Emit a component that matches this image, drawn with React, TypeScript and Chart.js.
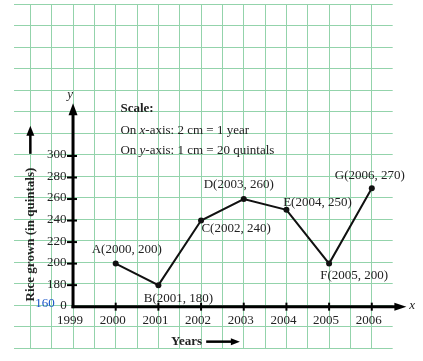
import React, { useEffect, useRef } from 'react';
import { Chart, registerables } from 'chart.js';

Chart.register(...registerables);

// ---- data ----
const years = [2000, 2001, 2002, 2003, 2004, 2005, 2006];
const riceGrown = [200, 180, 240, 260, 250, 200, 270];
const pointNames = ['A', 'B', 'C', 'D', 'E', 'F', 'G'];
const xTickValues = [1999, 2000, 2001, 2002, 2003, 2004, 2005, 2006];
const yTickValues = [180, 200, 220, 240, 260, 280, 300];
const yBreakValue = 160;
const yBreakLabel = '160';
const originLabel = '0';
const yTitle = 'Rice grown (in quintals)';
const xTitle = 'Years';
const scaleTitle = 'Scale:';
const scaleLine1 = [['On ', 'n'], ['x', 'i'], ['-axis: 2 cm = 1 year', 'n']];
const scaleLine2 = [['On ', 'n'], ['y', 'i'], ['-axis: 1 cm = 20 quintals', 'n']];

// ---- layout (pixels / scale extents) ----
const X_MIN = 1997.617;
const X_MAX = 2006.49;
const Y_MIN = 121.6;
const Y_MAX = 441.2;
const Y_AXIS_END = 349;
const X_AXIS_END = 2006.81;
const LABEL_OFFSETS: [number, number][] = [
  [11, -14], [20, 13], [35, 8], [-5, -14], [31, -7], [25, 12], [-2, -13],
];

const SERIF = '"Liberation Serif", "Times New Roman", serif';
const TEXT = '#222';
const GRID = '#93d3ab';

function arrow(ctx: CanvasRenderingContext2D, tx: number, ty: number, dx: number, dy: number, len: number, hw: number) {
  const bx = tx - dx * len, by = ty - dy * len;
  const nx = -dy, ny = dx;
  ctx.beginPath();
  ctx.moveTo(tx, ty);
  ctx.lineTo(bx + nx * hw, by + ny * hw);
  ctx.lineTo(bx - nx * hw, by - ny * hw);
  ctx.closePath();
  ctx.fill();
}

const decor = {
  id: 'decor',
  beforeDatasetsDraw(chart: any) {
    const { ctx, scales } = chart;
    const xs = scales.x, ys = scales.y;
    const px = (v: number) => xs.getPixelForValue(v);
    const py = (v: number) => ys.getPixelForValue(v);
    const ox = px(xTickValues[0]);
    const oy = py(yBreakValue);
    ctx.save();
    ctx.strokeStyle = '#000';
    ctx.fillStyle = '#000';
    // y axis
    ctx.lineWidth = 3;
    ctx.beginPath();
    ctx.moveTo(ox, oy + 1.5);
    ctx.lineTo(ox, py(Y_AXIS_END) + 8);
    ctx.stroke();
    arrow(ctx, ox, py(Y_AXIS_END), 0, -1, 12, 4.5);
    // x axis
    ctx.beginPath();
    ctx.moveTo(ox - 1.5, oy);
    ctx.lineTo(px(X_AXIS_END) - 8, oy);
    ctx.stroke();
    arrow(ctx, px(X_AXIS_END), oy, 1, 0, 12, 4);
    // ticks
    ctx.lineWidth = 2;
    yTickValues.forEach((v) => {
      ctx.beginPath();
      ctx.moveTo(ox - 6, py(v));
      ctx.lineTo(ox + 4, py(v));
      ctx.stroke();
    });
    xTickValues.slice(1).forEach((v) => {
      ctx.beginPath();
      ctx.moveTo(px(v), oy - 4);
      ctx.lineTo(px(v), oy + 4);
      ctx.stroke();
    });
    ctx.restore();
  },
  afterDatasetsDraw(chart: any) {
    const { ctx, scales } = chart;
    const xs = scales.x, ys = scales.y;
    const px = (v: number) => xs.getPixelForValue(v);
    const py = (v: number) => ys.getPixelForValue(v);
    const ox = px(xTickValues[0]);
    const oy = py(yBreakValue);
    ctx.save();
    ctx.fillStyle = TEXT;
    ctx.textBaseline = 'middle';
    ctx.font = `13px ${SERIF}`;
    // y tick labels
    ctx.textAlign = 'right';
    yTickValues.forEach((v) => ctx.fillText(String(v), ox - 6.5, py(v) - 1));
    // x tick labels
    ctx.textAlign = 'center';
    xTickValues.forEach((v) => ctx.fillText(String(v), px(v) - 3, oy + 14));
    // origin labels
    ctx.fillText(originLabel, ox - 9.5, oy - 1);
    ctx.fillStyle = '#1a56c8';
    ctx.fillText(yBreakLabel, ox - 28, oy - 3.5);
    ctx.fillStyle = TEXT;
    // point labels
    years.forEach((yr, i) => {
      const [dx, dy] = LABEL_OFFSETS[i];
      ctx.fillText(`${pointNames[i]}(${yr}, ${riceGrown[i]})`, px(yr) + dx, py(riceGrown[i]) + dy);
    });
    // axis letters
    ctx.font = `italic 13px ${SERIF}`;
    ctx.fillText('y', ox - 3, py(Y_AXIS_END) - 9);
    ctx.textAlign = 'left';
    ctx.fillText('x', px(X_AXIS_END) + 3, oy - 1);
    // scale box
    const sx = px(2000.11);
    ctx.font = `bold 13px ${SERIF}`;
    ctx.fillText(scaleTitle, sx, py(343.6));
    const drawMixed = (segs: string[][], y: number) => {
      let cx = sx;
      segs.forEach(([t, s]) => {
        ctx.font = `${s === 'i' ? 'italic ' : ''}13px ${SERIF}`;
        ctx.fillText(t, cx, y);
        cx += ctx.measureText(t).width;
      });
    };
    drawMixed(scaleLine1, py(323.4));
    drawMixed(scaleLine2, py(304.6));
    // x title
    ctx.font = `bold 13px ${SERIF}`;
    ctx.textAlign = 'center';
    const tx = px(2001.66), ty = py(127.5);
    ctx.fillText(xTitle, tx, ty);
    ctx.strokeStyle = '#000';
    ctx.fillStyle = '#000';
    ctx.lineWidth = 2.5;
    ctx.beginPath();
    ctx.moveTo(px(2002.12), ty);
    ctx.lineTo(px(2002.91) - 6, ty);
    ctx.stroke();
    arrow(ctx, px(2002.91), ty, 1, 0, 9, 3.5);
    // y title
    const yx = px(1998);
    ctx.fillStyle = TEXT;
    ctx.save();
    ctx.translate(yx, py(227));
    ctx.rotate(-Math.PI / 2);
    ctx.fillText(yTitle, 0, 0);
    ctx.restore();
    ctx.fillStyle = '#000';
    ctx.beginPath();
    ctx.moveTo(yx, py(302));
    ctx.lineTo(yx, py(328) + 6);
    ctx.stroke();
    arrow(ctx, yx, py(328), 0, -1, 10, 4);
    ctx.restore();
  },
};

export default function App() {
  const ref = useRef<HTMLCanvasElement | null>(null);
  useEffect(() => {
    if (!ref.current) return;
    const chart = new Chart(ref.current, {
      type: 'line',
      data: {
        datasets: [
          {
            data: years.map((yr, i) => ({ x: yr, y: riceGrown[i] })),
            borderColor: '#111',
            backgroundColor: '#111',
            borderWidth: 2,
            pointRadius: 3,
            pointBackgroundColor: '#111',
            pointBorderWidth: 0,
            tension: 0,
          },
        ],
      },
      options: {
        animation: false,
        responsive: true,
        maintainAspectRatio: false,
        layout: { padding: { left: 14, right: 30.3, top: 4, bottom: 13 } },
        plugins: { legend: { display: false }, tooltip: { enabled: false } },
        scales: {
          x: {
            type: 'linear',
            min: X_MIN,
            max: X_MAX,
            ticks: { display: false, stepSize: 0.5, includeBounds: false },
            grid: { color: GRID, lineWidth: 1, drawTicks: false },
            border: { display: false },
          },
          y: {
            type: 'linear',
            min: Y_MIN,
            max: Y_MAX,
            ticks: { display: false, stepSize: 20, includeBounds: false },
            grid: { color: GRID, lineWidth: 1, drawTicks: false },
            border: { display: false },
          },
        },
      },
      plugins: [decor],
    } as any);
    return () => chart.destroy();
  }, []);
  return (
    <div style={{ position: 'fixed', left: 0, top: 0, width: 423, height: 361, background: '#fff' }}>
      <canvas ref={ref} />
    </div>
  );
}
